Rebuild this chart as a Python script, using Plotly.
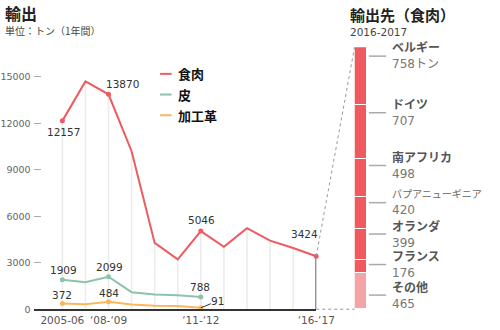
import plotly.graph_objects as go

# ---- data -------------------------------------------------------------
years = ["2005-06", "2006-07", "2007-08", "2008-09", "2009-10", "2010-11",
         "2011-12", "2012-13", "2013-14", "2014-15", "2015-16", "2016-17"]
meat = [12157, 14700, 13870, 10200, 4280, 3220, 5046, 4030, 5230, 4430, 3950, 3424]
hide = [1909, 1740, 2099, 1100, 950, 900, 788]
leather = [372, 330, 484, 310, 230, 210, 91]

tick_idx = [0, 2, 6, 11]
tick_text = ["2005-06", "‘08-‘09", "‘11-‘12", "‘16-‘17"]
y_ticks = [0, 3000, 6000, 9000, 12000, 15000]

dest_names = ["ベルギー", "ドイツ", "南アフリカ", "パプアニューギニア", "オランダ", "フランス", "その他"]
dest_values = [758, 707, 498, 420, 399, 176, 465]
dest_units = ["トン", "", "", "", "", "", ""]

# ---- styling ------------------------------------------------------------
W, H = 500, 330
RED, GREEN, ORANGE, PINK = "#ee5a60", "#8cc3a9", "#fdb65e", "#f4a3a6"
JP = "Noto Sans CJK JP"
NUM = "DejaVu Sans, Noto Sans CJK JP"

X_DOM = [33 / W, 328 / W]
X_RANGE = [-1.245, 11]
Y_DOM = [1 - 314 / H, 1 - 48 / H]
Y_RANGE = [0, 15000 * 266 / 236]
BAR_DOM = [368 / W, 382 / W]
total = sum(dest_values)


def px_x(v):
    return (X_DOM[0] + (v - X_RANGE[0]) / (X_RANGE[1] - X_RANGE[0]) * (X_DOM[1] - X_DOM[0])) * W


def py_y(v):
    return (1 - (Y_DOM[0] + (v - Y_RANGE[0]) / (Y_RANGE[1] - Y_RANGE[0]) * (Y_DOM[1] - Y_DOM[0]))) * H


def bar_py(v_from_top):
    frac = (total - v_from_top) / total
    return (1 - (Y_DOM[0] + frac * (Y_DOM[1] - Y_DOM[0]))) * H


fig = go.Figure()

# drop lines from the meat series down to zero
dx, dy = [], []
for i, v in enumerate(meat[:-1]):
    dx += [i, i, None]
    dy += [v, 0, None]
fig.add_trace(go.Scatter(x=dx, y=dy, mode="lines", line=dict(color="#ebebeb", width=1.5),
                         hoverinfo="skip", showlegend=False))
last = len(meat) - 1
fig.add_trace(go.Scatter(x=[last, last], y=[meat[-1], 0], mode="lines",
                         line=dict(color="#333333", width=1.5), hoverinfo="skip", showlegend=False))

# series lines
for vals, col in [(leather, ORANGE), (hide, GREEN), (meat, RED)]:
    xs = list(range(len(vals)))
    fig.add_trace(go.Scatter(x=xs, y=vals, mode="lines", line=dict(color=col, width=2),
                             cliponaxis=False, hoverinfo="skip", showlegend=False))

# markers on labelled points
for vals, col, idx in [(leather, ORANGE, [0, 2, 6]), (hide, GREEN, [0, 2, 6]), (meat, RED, [0, 2, 6, 11])]:
    fig.add_trace(go.Scatter(x=idx, y=[vals[i] for i in idx], mode="markers",
                             marker=dict(color=col, size=5), cliponaxis=False,
                             hoverinfo="skip", showlegend=False))

# stacked destination bar (bottom segment first)
for name, val in reversed(list(zip(dest_names, dest_values))):
    fig.add_trace(go.Bar(x=[0], y=[val], xaxis="x2", yaxis="y2", width=1,
                         marker=dict(color=PINK if name == "その他" else RED,
                                     line=dict(color="white", width=1.2)),
                         hoverinfo="skip", showlegend=False))

ann = []
shapes = []


def label(x, y, text, xs=0, ys=0, size=10.5):
    ann.append(dict(x=x, y=y, xref="x", yref="y", text=text, showarrow=False, borderpad=0,
                    xshift=xs, yshift=ys, font=dict(family=NUM, size=size, color="#333")))


label(0, meat[0], str(meat[0]), 1, -11)
label(2, meat[2], str(meat[2]), 14, 10)
label(6, meat[6], str(meat[6]), 1, 11)
label(11, meat[11], str(meat[11]), -12, 22)
label(0, hide[0], str(hide[0]), 1, 10)
label(2, hide[2], str(hide[2]), 1, 10)
label(6, hide[6], str(hide[6]), -1, 10)
label(0, leather[0], str(leather[0]), 0, 8)
label(2, leather[2], str(leather[2]), 0, 9)
ann.append(dict(x=6, y=leather[6], xref="x", yref="y", text=str(leather[6]), showarrow=True,
                arrowhead=0, arrowwidth=1, arrowcolor="#333", ax=17, ay=-7, standoff=0,
                borderpad=0, font=dict(family=NUM, size=10.5, color="#333")))

# legend drawn by hand
for i, (name, col) in enumerate([("食肉", RED), ("皮", GREEN), ("加工革", ORANGE)]):
    yp = 1 - (75 + 21 * i) / H
    shapes.append(dict(type="line", xref="paper", yref="paper", x0=165 / W, x1=177 / W,
                       y0=yp, y1=yp, line=dict(color=col, width=2)))
    ann.append(dict(x=183 / W, y=yp, xref="paper", yref="paper", text=f"<b>{name}</b>",
                    showarrow=False, xanchor="left", yanchor="middle", borderpad=0,
                    font=dict(family=JP, size=13, color="#111")))

# titles
titles = [
    dict(x=2 / W, y=1 - 13 / H, text="<b>輸出</b>", font=dict(family=JP, size=16, color="#222")),
    dict(x=2 / W, y=1 - 31 / H, text="単位：トン（1年間）", font=dict(family=JP, size=10, color="#444")),
    dict(x=362 / W, y=1 - 14.5 / H, text="<b>輸出先（食肉）</b>", font=dict(family=JP, size=15, color="#222")),
    dict(x=362 / W, y=1 - 32 / H, text="2016-2017", font=dict(family=NUM, size=10.5, color="#444")),
]
for a in titles:
    a.update(xref="paper", yref="paper", showarrow=False, xanchor="left", yanchor="middle", borderpad=0)
ann += titles

# connector between the last point and the bar
x_end = px_x(last)
shapes.append(dict(type="line", xref="paper", yref="paper", x0=x_end / W, x1=BAR_DOM[0],
                   y0=1 - py_y(0) / H, y1=1 - py_y(0) / H, line=dict(color="#999", width=1, dash="dot")))
shapes.append(dict(type="line", xref="paper", yref="paper", x0=x_end / W, x1=BAR_DOM[0],
                   y0=1 - py_y(meat[-1]) / H, y1=Y_DOM[1], line=dict(color="#999", width=1, dash="dot")))

# destination labels with leader lines
LABEL_PX_PER_TON = 0.0758
MIN_GAP = 31
top_px = bar_py(0)
prev = None
cum = 0
for name, val, unit in zip(dest_names, dest_values, dest_units):
    ly = top_px + 9 + cum * LABEL_PX_PER_TON
    if prev is not None and ly - prev < MIN_GAP:
        ly = prev + MIN_GAP
    prev = ly
    cum += val
    shapes.append(dict(type="line", xref="paper", yref="paper", x0=383 / W, x1=401 / W,
                       y0=1 - ly / H, y1=1 - ly / H, line=dict(color="#aaa", width=1.5)))
    if len(name) > 6:
        head = f"<span style='font-size:10px;color:#666'>{name}</span>"
    else:
        head = f"<b>{name}</b>"
    ann.append(dict(x=406 / W, y=1 - ly / H, xref="paper", yref="paper",
                    text=f"{head}<br><span style='color:#777'>{val}{unit}</span>",
                    showarrow=False, xanchor="left", yanchor="middle", align="left", borderpad=0,
                    font=dict(family=NUM, size=12, color="#555")))

fig.update_layout(
    width=W, height=H, margin=dict(l=0, r=0, t=0, b=0),
    paper_bgcolor="white", plot_bgcolor="white", barmode="stack", bargap=0,
    xaxis=dict(domain=X_DOM, range=X_RANGE, tickvals=tick_idx, ticktext=tick_text,
               showgrid=False, zeroline=False, showline=True, linecolor="#333", linewidth=1.5,
               ticks="", tickfont=dict(family=NUM, size=10.5, color="#555")),
    yaxis=dict(domain=Y_DOM, range=Y_RANGE, tickvals=y_ticks, ticktext=[str(v) for v in y_ticks],
               showgrid=False, zeroline=False,
               ticks="inside", ticklen=7, tickcolor="#aaa", tickwidth=1,
               ticklabelstandoff=2,
               tickfont=dict(family=NUM, size=9.5, color="#666")),
    xaxis2=dict(domain=BAR_DOM, range=[-0.5, 0.5], visible=False, anchor="y2"),
    yaxis2=dict(domain=Y_DOM, range=[0, total], visible=False, anchor="x2"),
    annotations=ann, shapes=shapes,
)

fig.write_html("out.html")
